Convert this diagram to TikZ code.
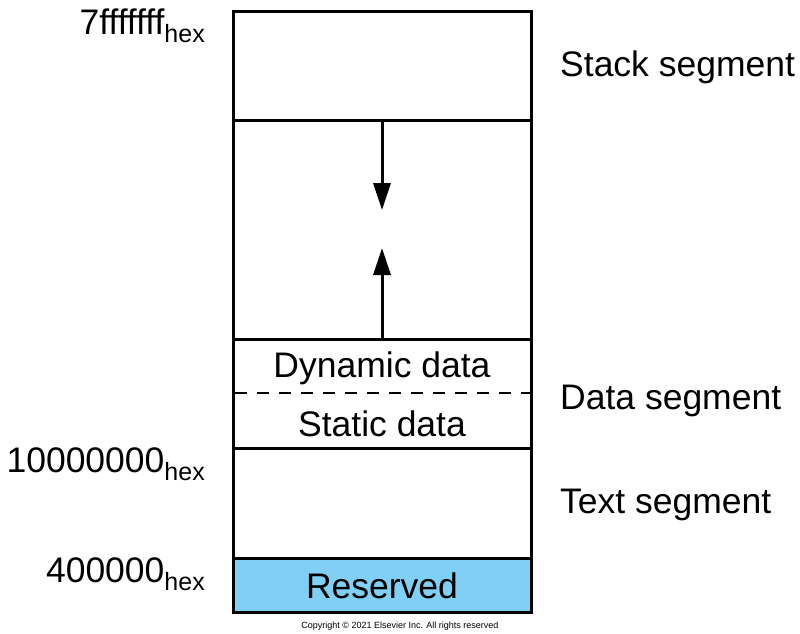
\documentclass[tikz,border=0pt]{standalone}
\usepackage{fontspec}
\setmainfont{Liberation Sans}
\usetikzlibrary{arrows.meta}
\definecolor{resblue}{RGB}{128,208,246}
\tikzset{
  seg/.style={line width=3pt, draw=black},
  big/.style={font=\fontsize{35.5}{40}\selectfont, inner sep=0pt, anchor=base},
  side/.style={font=\fontsize{35.5}{40}\selectfont, inner sep=0pt, anchor=base west},
  addr/.style={font=\fontsize{35.5}{40}\selectfont, inner sep=0pt, anchor=base east},
  growarrow/.style={line width=3pt, -{Triangle[length=27pt,width=17pt]}},
}
\newcommand{\hexsub}{\raisebox{-8.5pt}{\fontsize{25}{30}\selectfont hex}}
\begin{document}
\begin{tikzpicture}[x=1pt,y=-1pt]
\useasboundingbox (0,0) rectangle (800,633);
% reserved fill
\fill[resblue] (233,558) rectangle (531,612);
% outer box and dividers
\draw[seg] (233,11) rectangle (531,612);
\coordinate (sL) at (233,120); \coordinate (sR) at (531,120);
\coordinate (dL) at (233,339); \coordinate (dR) at (531,339);
\coordinate (tL) at (233,448); \coordinate (tR) at (531,448);
\coordinate (rL) at (233,558); \coordinate (rR) at (531,558);
\draw[seg] (sL) -- (sR);
\draw[seg] (dL) -- (dR);
\draw[seg] (tL) -- (tR);
\draw[seg] (rL) -- (rR);
\coordinate (xL) at (235,393); \coordinate (xR) at (531,393);
\draw[line width=1.6pt, dash pattern=on 12pt off 10pt] (xL) -- (xR);
% arrows
\coordinate (a1) at (382,120); \coordinate (a2) at (382,210);
\coordinate (b1) at (382,339); \coordinate (b2) at (382,248);
\draw[growarrow] (a1) -- (a2);
\draw[growarrow] (b1) -- (b2);
% inner labels
\node[big] (dyn) at (382,377) {Dynamic data};
\node[big] (sta) at (382,436) {Static data};
\node[big] (res) at (382,598) {Reserved};
% right labels
\node[side] (stk) at (560,76) {Stack segment};
\node[side] (dat) at (560,409) {Data segment};
\node[side] (txt) at (560,513) {Text segment};
% addresses
\node[addr] (a7) at (205,34) {7fffffff\hexsub};
\node[addr] (a10) at (205,472) {10000000\hexsub};
\node[addr] (a4) at (205,582) {400000\hexsub};
% copyright
\node[font=\fontsize{9}{10}\selectfont, inner sep=0pt, anchor=base] (copy) at (400,628) {Copyright \textcopyright{} 2021 Elsevier Inc. All rights reserved};
\end{tikzpicture}
\end{document}
